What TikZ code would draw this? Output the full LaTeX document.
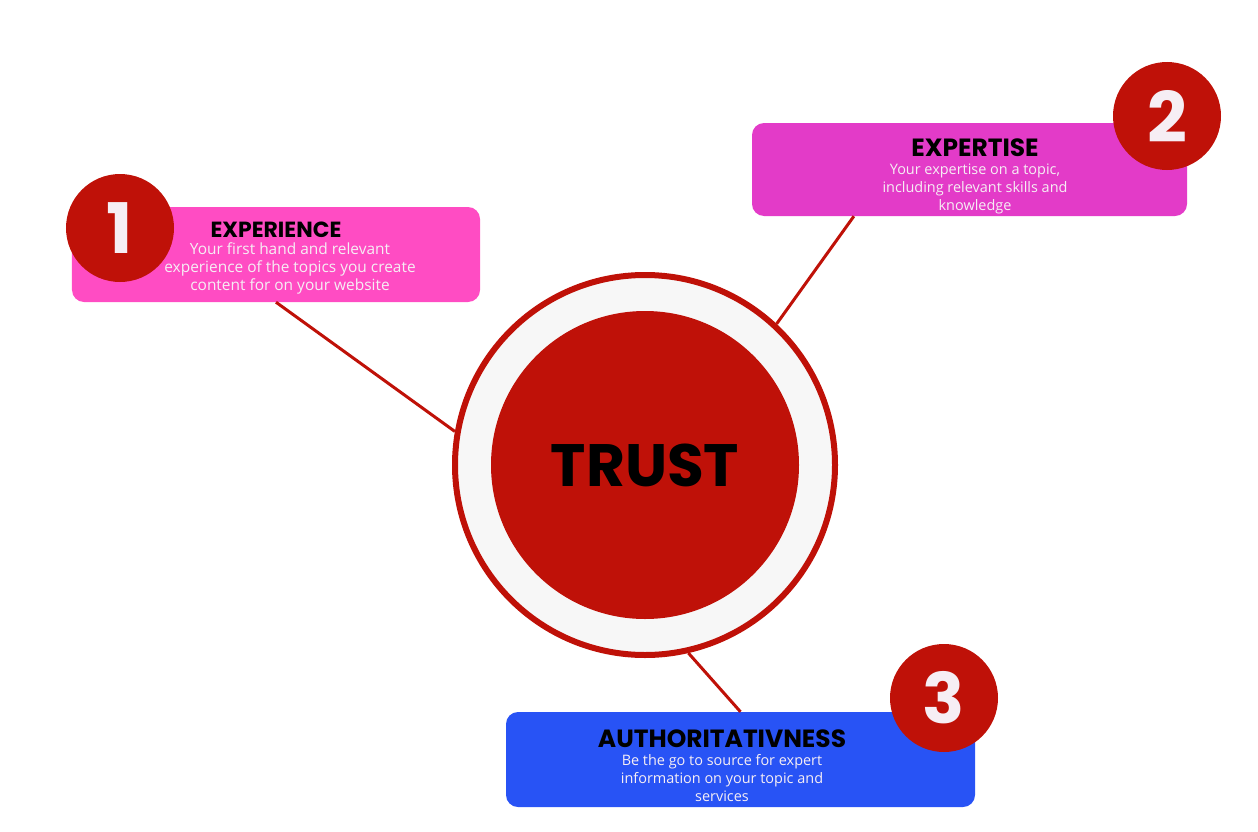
\documentclass[tikz,border=0pt]{standalone}
\usepackage{fontspec}
\setmainfont{Open Sans}
\newfontfamily\headfont{Poppins}
\usepackage{xcolor}
\usetikzlibrary{positioning}
\definecolor{trustred}{HTML}{BF1108}
\definecolor{ringgrey}{HTML}{F7F7F7}
\definecolor{pinkbox}{HTML}{FF4CC3}
\definecolor{magentabox}{HTML}{E33BC8}
\definecolor{bluebox}{HTML}{2853F5}
\definecolor{softwhite}{HTML}{F6EEF4}
\tikzset{x=1bp, y=-1bp, every text node part/.style={align=center}}
\tikzstyle{card} = [rounded corners=12bp, inner sep=0pt]
\tikzstyle{badge} = [circle, fill=trustred, minimum size=108bp, inner sep=0pt, text=softwhite, font={\headfont\bfseries\fontsize{70}{70}\selectfont}]
\tikzstyle{blurb} = [inner sep=0pt, text=softwhite, font={\fontsize{14.5}{18}\selectfont}]
\tikzstyle{ln} = [draw=trustred, line width=3bp]
\newcommand{\heading}[2][22]{{\headfont\bfseries\fontsize{#1}{18}\selectfont\color{black}#2}}

\begin{document}
\begin{tikzpicture}
  \useasboundingbox (0,0) rectangle (1258,832);
  % centre
  \node[circle, draw=trustred, line width=6bp, fill=ringgrey, minimum size=380bp, inner sep=0pt] (ring) at (645,465) {};
  \node[circle, fill=trustred, minimum size=308bp, inner sep=0pt, font={\headfont\bfseries\fontsize{60}{60}\selectfont}] (trust) at (645,465) {TRUST};
  % cards
  \node[card, fill=pinkbox, minimum width=408bp, minimum height=95bp] (box-1) at (276,254.5) {};
  \node[card, fill=magentabox, minimum width=435bp, minimum height=93bp] (box-2) at (969.5,169.5) {};
  \node[card, fill=bluebox, minimum width=469bp, minimum height=95bp] (box-3) at (740.5,759.5) {};
  \node[blurb, font={\fontsize{15.5}{18}\selectfont}] (txt-1) at (290,258) {\heading{EXPERIENCE}\hspace*{28bp}\\Your first hand and relevant\\experience of the topics you create\\content for on your website};
  \node[blurb] (txt-2) at (975,176) {\heading[25]{EXPERTISE}\\Your expertise on a topic,\\including relevant skills and\\knowledge};
  \node[blurb] (txt-3) at (722,766) {\heading[25]{AUTHORITATIVNESS}\\Be the go to source for expert\\information on your topic and\\services};
  % numbers
  \node[badge] (badge-1) at (120,228) {1};
  \node[badge] (badge-2) at (1167,116) {2};
  \node[badge] (badge-3) at (944,698) {3};
  % links
  \path[ln] (box-1.south) -- (ring.170);
  \path[ln] (box-2.202) -- (ring.47);
  \path[ln] (ring.283) -- (box-3.north);
\end{tikzpicture}
\end{document}
